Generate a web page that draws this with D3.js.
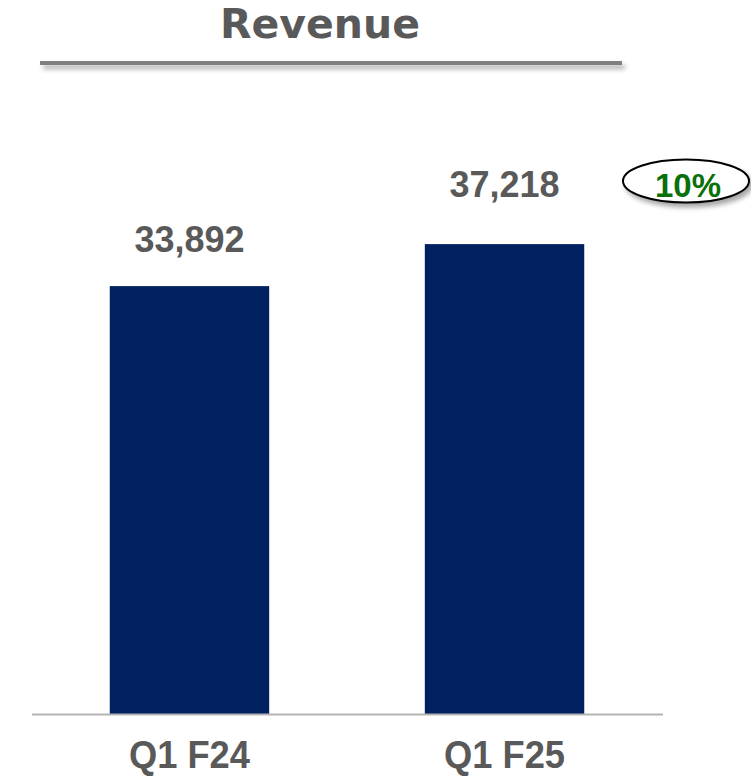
<!DOCTYPE html>
<html>
<head>
<meta charset="utf-8">
<script src="https://cdn.jsdelivr.net/npm/d3@7"></script>
<style>
  html, body { margin: 0; padding: 0; background: #ffffff; }
  svg { display: block; }
</style>
</head>
<body>
<div id="chart"></div>
<script>
const title = "Revenue";
const categories = ["Q1 F24", "Q1 F25"];
const revenue = [33892, 37218];
const valueLabels = ["33,892", "37,218"];
const growthLabel = "10%";

const W = 751, H = 776;
const svg = d3.select("#chart").append("svg").attr("width", W).attr("height", H);

const defs = svg.append("defs");
const sh = defs.append("filter").attr("id", "shadow")
  .attr("filterUnits", "userSpaceOnUse")
  .attr("x", 0).attr("y", 0).attr("width", W).attr("height", H);
sh.append("feGaussianBlur").attr("in", "SourceAlpha").attr("stdDeviation", 2.5).attr("result", "b");
sh.append("feOffset").attr("in", "b").attr("dx", 3).attr("dy", 4).attr("result", "o");
sh.append("feComponentTransfer").attr("in", "o").attr("result", "oa")
  .append("feFuncA").attr("type", "linear").attr("slope", 0.35);
const m = sh.append("feMerge");
m.append("feMergeNode").attr("in", "oa");
m.append("feMergeNode").attr("in", "SourceGraphic");

// Title
svg.append("text")
  .attr("x", 320).attr("y", 38)
  .attr("text-anchor", "middle")
  .attr("font-family", "DejaVu Sans, sans-serif")
  .attr("font-weight", "bold")
  .attr("font-size", 41)
  .attr("fill", "#595959")
  .text(title);

// Title rule
svg.append("rect")
  .attr("x", 40).attr("y", 61).attr("width", 582).attr("height", 4)
  .attr("fill", "#808080")
  .attr("filter", "url(#shadow)");

// Scales
const x = d3.scaleBand().domain(categories).range([31, 663]).paddingInner(0.494).paddingOuter(0.25);
const y = d3.scaleLinear().domain([0, 40000]).range([714, 209]);

// Bars
svg.selectAll("rect.bar").data(revenue).enter().append("rect")
  .attr("class", "bar")
  .attr("x", (d, i) => x(categories[i]))
  .attr("width", x.bandwidth())
  .attr("y", d => y(d))
  .attr("height", d => y(0) - y(d))
  .attr("fill", "#002060");

// Baseline axis
const axis = svg.append("g").attr("transform", `translate(0,${y(0)})`)
  .call(d3.axisBottom(x).tickSize(0).tickFormat(""));
axis.select(".domain").attr("d", "M32,0.5H663").attr("stroke", "#b4b4b4").attr("stroke-width", 2);

// Category labels
const labelY = [768, 768];
svg.selectAll("text.cat").data(categories).enter().append("text")
  .attr("class", "cat")
  .attr("x", d => x(d) + x.bandwidth() / 2)
  .attr("y", (d, i) => labelY[i])
  .attr("text-anchor", "middle")
  .attr("font-family", "Liberation Sans, Arial, sans-serif")
  .attr("font-weight", "bold")
  .attr("font-size", 38)
  .attr("textLength", 121)
  .attr("lengthAdjust", "spacingAndGlyphs")
  .attr("fill", "#595959")
  .text(d => d);

// Value labels
const valueBaseline = [252, 197];
svg.selectAll("text.val").data(valueLabels).enter().append("text")
  .attr("class", "val")
  .attr("x", (d, i) => x(categories[i]) + x.bandwidth() / 2)
  .attr("y", (d, i) => valueBaseline[i])
  .attr("text-anchor", "middle")
  .attr("font-family", "Liberation Sans, Arial, sans-serif")
  .attr("font-weight", "bold")
  .attr("font-size", 36)
  .attr("fill", "#595959")
  .text(d => d);

// Growth oval
svg.append("ellipse")
  .attr("cx", 686).attr("cy", 181).attr("rx", 63).attr("ry", 21.5)
  .attr("fill", "#ffffff").attr("stroke", "#000000").attr("stroke-width", 2)
  .attr("filter", "url(#shadow)");
svg.append("text")
  .attr("x", 688).attr("y", 197)
  .attr("text-anchor", "middle")
  .attr("font-family", "Liberation Sans, Arial, sans-serif")
  .attr("font-weight", "bold")
  .attr("font-size", 33)
  .attr("fill", "#0a700a")
  .text(growthLabel);
</script>
</body>
</html>
